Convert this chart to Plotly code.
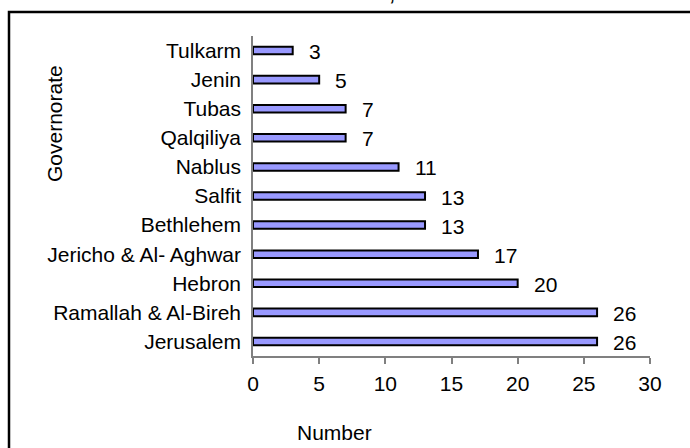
import plotly.graph_objects as go

governorates = ["Tulkarm", "Jenin", "Tubas", "Qalqiliya", "Nablus", "Salfit",
                "Bethlehem", "Jericho & Al- Aghwar", "Hebron",
                "Ramallah & Al-Bireh", "Jerusalem"]
numbers = [3, 5, 7, 7, 11, 13, 13, 17, 20, 26, 26]
x_ticks = [0, 5, 10, 15, 20, 25, 30]

FONT = "Liberation Sans, Arial, sans-serif"
W, H = 690, 448
ML, MR, MT, MB = 253, 40, 36, 92
pw, ph = W - ML - MR, H - MT - MB

def px_x(p):
    return (p - ML) / pw

def px_y(p):
    return (H - MB - p) / ph

fig = go.Figure()
fig.add_trace(go.Bar(
    y=governorates, x=numbers, orientation="h", width=0.26,
    marker=dict(color="#9999FF", line=dict(color="#000000", width=2)),
    hoverinfo="skip",
))

annotations = []
for g, v in zip(governorates, numbers):
    annotations.append(dict(x=v, y=g, xref="x", yref="y", text=str(v),
                            showarrow=False, xanchor="left", xshift=14, yshift=-1,
                            font=dict(family=FONT, size=21, color="#000")))
annotations.append(dict(x=px_x(334), y=px_y(432), xref="paper", yref="paper",
                        text="Number", showarrow=False, xanchor="center", yanchor="middle",
                        font=dict(family=FONT, size=21, color="#000")))
annotations.append(dict(x=px_x(54), y=px_y(123), xref="paper", yref="paper",
                        text="Governorate", textangle=-90, showarrow=False,
                        xanchor="center", yanchor="middle",
                        font=dict(family=FONT, size=21, color="#000")))
annotations.append(dict(x=px_x(352), y=1, xref="paper", yref="paper",
                        text="Governorate, 2010", showarrow=False,
                        xanchor="center", yanchor="bottom", yshift=28,
                        font=dict(family=FONT, size=26, color="#000")))

fig.update_layout(
    width=W, height=H,
    margin=dict(l=ML, r=MR, t=MT, b=MB, pad=0),
    paper_bgcolor="white", plot_bgcolor="white",
    showlegend=False,
    font=dict(family=FONT, size=21, color="#000"),
    annotations=annotations,
    shapes=[dict(type="rect", xref="paper", yref="paper",
                 x0=px_x(9), x1=px_x(760), y0=px_y(520), y1=px_y(12),
                 line=dict(color="#000", width=2.5), fillcolor="rgba(0,0,0,0)",
                 layer="below")],
    xaxis=dict(range=[0, 30], tickvals=x_ticks, ticktext=[str(t) for t in x_ticks],
               showgrid=False, zeroline=False, showline=True, linecolor="#808080",
               linewidth=1.5, ticks="outside", ticklen=6, tickcolor="#808080",
               tickwidth=1.5, tickfont=dict(family=FONT, size=21, color="#000"),
               ticklabelstandoff=2),
    yaxis=dict(autorange="reversed", showgrid=False, zeroline=False, showline=True,
               linecolor="#808080", linewidth=1.5, ticks="",
               tickfont=dict(family=FONT, size=21, color="#000"),
               ticklabelstandoff=6),
)

fig.write_html("out.html", config={"displayModeBar": False},
               post_script="document.body.style.margin='0';document.body.style.overflow='hidden';")
